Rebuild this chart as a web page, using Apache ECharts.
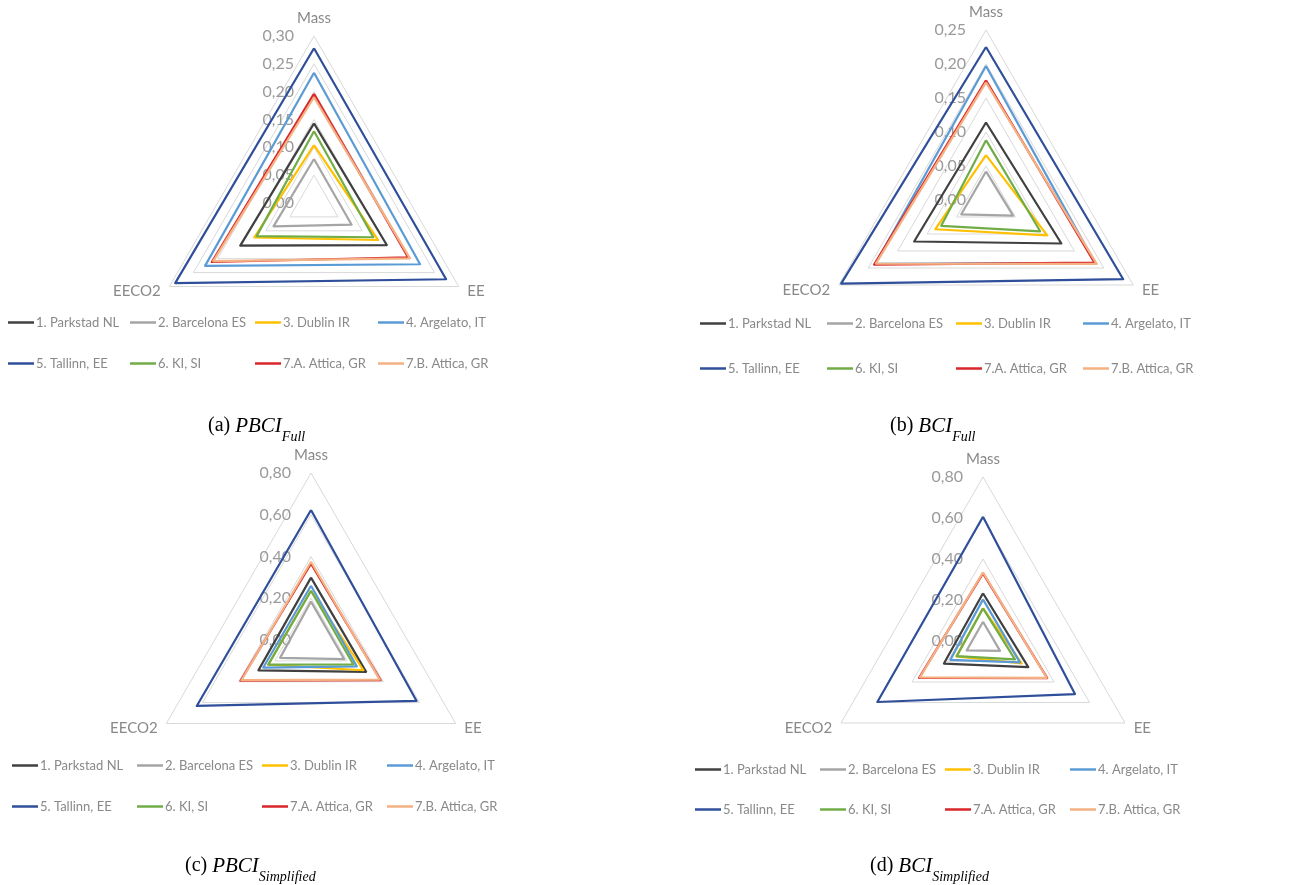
<!DOCTYPE html>
<html><head><meta charset="utf-8">
<script src="https://cdn.jsdelivr.net/npm/echarts@6/dist/echarts.min.js"></script>
<style>html,body{margin:0;padding:0;background:#fff}#c{width:1293px;height:885px}</style>
</head><body><div id="c"></div>
<script>
// ---------- data ----------
const sites = ['1. Parkstad NL','2. Barcelona ES','3. Dublin IR','4. Argelato, IT','5. Tallinn, EE','6. KI, SI','7.A. Attica, GR','7.B. Attica, GR'];
const siteColors = ['#404040','#a5a5a5','#ffc000','#5b9bd5','#2f4f9a','#70ad47','#d9262a','#f4b183'];
const axisNames = ['Mass','EECO2','EE'];

// (a) PBCI Full
const pbciFullMass  = [0.143,0.079,0.104,0.234,0.278,0.129,0.196,0.190];
const pbciFullEE    = [0.151,0.078,0.133,0.220,0.274,0.123,0.195,0.199];
const pbciFullEECO2 = [0.153,0.084,0.124,0.226,0.288,0.119,0.212,0.209];
// (b) BCI Full
const bciFullMass  = [0.114,0.042,0.066,0.197,0.225,0.088,0.176,0.173];
const bciFullEE    = [0.128,0.046,0.104,0.185,0.233,0.092,0.184,0.188];
const bciFullEECO2 = [0.122,0.042,0.086,0.188,0.246,0.076,0.190,0.187];
// (c) PBCI Simplified
const pbciSimpMass  = [0.299,0.184,0.236,0.260,0.623,0.236,0.365,0.375];
const pbciSimpEE    = [0.305,0.184,0.290,0.253,0.584,0.234,0.385,0.380];
const pbciSimpEECO2 = [0.291,0.171,0.237,0.264,0.632,0.236,0.390,0.385];
// (d) BCI Simplified
const bciSimpMass  = [0.233,0.094,0.160,0.203,0.606,0.159,0.330,0.335];
const bciSimpEE    = [0.255,0.096,0.218,0.208,0.518,0.180,0.362,0.359];
const bciSimpEECO2 = [0.220,0.092,0.150,0.184,0.595,0.148,0.360,0.355];

// axis ranges (max, step)
const axisMax  = [0.30, 0.25, 0.80, 0.80];
const axisStep = [0.05, 0.05, 0.20, 0.20];
const captionLetters = ['(a) ','(b) ','(c) ','(d) '];
const captionMain = ['PBCI','BCI','PBCI','BCI'];
const captionSub = ['Full','Full','Simplified','Simplified'];

// ---------- layout ----------
const layout = [
  {center:[314,203], r:167, legX:[8,130,255,378],   legY:[324,365], capLeft:208, capTop:416},
  {center:[986,200], r:170, legX:[700,827,956,1083], legY:[325,370], capLeft:890, capTop:416},
  {center:[311,640], r:167, legX:[12,137,262,387],  legY:[767,808], capLeft:185, capTop:856},
  {center:[983,641], r:164, legX:[695,820,945,1070], legY:[771,811], capLeft:870, capTop:856}
];
const panelData = [
  [pbciFullMass, pbciFullEECO2, pbciFullEE],
  [bciFullMass, bciFullEECO2, bciFullEE],
  [pbciSimpMass, pbciSimpEECO2, pbciSimpEE],
  [bciSimpMass, bciSimpEECO2, bciSimpEE]
];

const FONT = 'Lato, "Open Sans", sans-serif';
const GREY = '#898989';
const fmt = v => Number(v).toFixed(2).replace('.', ',');

const radar = [], series = [], legend = [], title = [];
layout.forEach((L, p) => {
  radar.push({
    center: L.center, radius: L.r, startAngle: 90, shape: 'polygon',
    splitNumber: Math.round(axisMax[p] / axisStep[p]),
    indicator: axisNames.map((n, i) => {
      const ind = { name: n, min: 0, max: axisMax[p] };
      if (i !== 0) ind.axisLabel = { show: false };
      return ind;
    }),
    axisName: { color: GREY, fontSize: 15, fontFamily: FONT },
    nameGap: 10,
    axisLine: { show: false },
    axisTick: { show: false },
    axisLabel: { show: true, color: '#9a9a9a', fontSize: 16, fontFamily: FONT, formatter: fmt, margin: 20, showMinLabel: true, showMaxLabel: true },
    splitLine: { lineStyle: { color: '#d9d9d9', width: 1 } },
    splitArea: { show: false }
  });
  series.push({
    type: 'radar', radarIndex: p, symbol: 'none', silent: true,
    data: sites.map((s, k) => ({
      name: s,
      value: panelData[p].map(arr => arr[k]),
      lineStyle: { color: siteColors[k], width: 2.2 },
      itemStyle: { color: siteColors[k] }
    }))
  });
  sites.forEach((s, k) => {
    legend.push({
      data: [s], left: L.legX[k % 4], top: L.legY[Math.floor(k / 4)] - 8,
      padding: 0, icon: 'rect', itemWidth: 26, itemHeight: 2.5, itemGap: 0,
      selectedMode: false,
      textStyle: { color: GREY, fontSize: 13, fontFamily: FONT, padding: [0, 0, 0, -3] }
    });
  });
  const serif = '"Liberation Serif", "DejaVu Serif", serif';
  title.push({
    left: L.capLeft, top: L.capTop, padding: 0,
    text: '{n|' + captionLetters[p] + '}{i|' + captionMain[p] + '}{s|' + captionSub[p] + '}',
    textStyle: {
      fontWeight: 'normal',
      rich: {
        n: { fontFamily: serif, fontSize: 20, fontWeight: 'normal', color: '#000', lineHeight: 28, verticalAlign: 'top' },
        i: { fontFamily: serif, fontSize: 21, fontStyle: 'italic', fontWeight: 'normal', color: '#000', lineHeight: 28, verticalAlign: 'top' },
        s: { fontFamily: serif, fontSize: 14, fontStyle: 'italic', fontWeight: 'normal', color: '#000', lineHeight: 12, verticalAlign: 'bottom' }
      }
    }
  });
});

const chart = echarts.init(document.getElementById('c'), null, { renderer: 'canvas' });
chart.setOption({
  backgroundColor: '#fff',
  animation: false,
  title, legend, radar, series
});
</script></body></html>
